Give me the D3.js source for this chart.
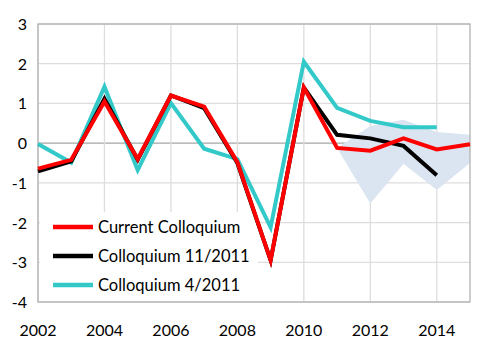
<!DOCTYPE html>
<html>
<head>
<meta charset="utf-8">
<script src="https://cdn.jsdelivr.net/npm/d3@7"></script>
<style>
  body { margin: 0; background: #fff; }
  text { font-family: Lato, "Open Sans", sans-serif; }
</style>
</head>
<body>
<div id="chart"></div>
<script>
// years on the x axis
let years = [2002, 2003, 2004, 2005, 2006, 2007, 2008, 2009, 2010, 2011, 2012, 2013, 2014, 2015];
let currentColloquium = [-0.64, -0.42, 1.05, -0.4, 1.2, 0.92, -0.48, -2.95, 1.4, -0.12, -0.19, 0.12, -0.16, -0.03];
let colloquium112011 = [-0.71, -0.46, 1.12, -0.42, 1.2, 0.88, -0.5, -2.95, 1.4, 0.21, 0.12, -0.07, -0.81];
let colloquium42011 = [-0.02, -0.49, 1.42, -0.68, 1.01, -0.14, -0.4, -2.12, 2.05, 0.89, 0.56, 0.4, 0.4];
// uncertainty band from 2011
let bandYears = [2011, 2012, 2013, 2014, 2015];
let bandUpper = [-0.12, 0.43, 0.59, 0.28, 0.21];
let bandLower = [-0.12, -1.52, -0.52, -1.18, -0.5];
let yTicks = [-4, -3, -2, -1, 0, 1, 2, 3];
let xTicks = [2002, 2004, 2006, 2008, 2010, 2012, 2014];

let series = [
    {name: 'Colloquium 4/2011', values: colloquium42011, color: '#33c9c9'},
    {name: 'Colloquium 11/2011', values: colloquium112011, color: '#000000'},
    {name: 'Current Colloquium', values: currentColloquium, color: '#ff0000'}
];

let width = 500, height = 353;
let plotL = 38, plotR = 470, plotT = 24, plotB = 302;

let x = d3.scaleLinear().domain([2002, 2015]).range([plotL, plotR]);
let y = d3.scaleLinear().domain([-4, 3]).range([plotB, plotT]);

let svg = d3.select('#chart').append('svg')
    .attr('width', width).attr('height', height);

// grid
svg.append('g').selectAll('line').data(yTicks).enter().append('line')
    .attr('x1', plotL).attr('x2', plotR)
    .attr('y1', d => y(d)).attr('y2', d => y(d))
    .attr('stroke', d => d === 0 ? '#a6a6a6' : '#dddddd')
    .attr('stroke-width', 1.3);
svg.append('g').selectAll('line').data(xTicks).enter().append('line')
    .attr('x1', d => x(d)).attr('x2', d => x(d))
    .attr('y1', plotT).attr('y2', plotB)
    .attr('stroke', '#dddddd')
    .attr('stroke-width', 1.3);

// band
let bandData = bandYears.map((yr, i) => ({yr: yr, hi: bandUpper[i], lo: bandLower[i]}));
svg.append('path')
    .datum(bandData)
    .attr('fill', '#dbe5f1')
    .attr('d', d3.area().x(d => x(d.yr)).y0(d => y(d.lo)).y1(d => y(d.hi)));

// legend box (hides grid behind it)
svg.append('rect')
    .attr('x', 40).attr('y', 212).attr('width', 218).attr('height', 89)
    .attr('fill', '#fff');

// frame
svg.append('rect')
    .attr('x', plotL).attr('y', plotT)
    .attr('width', plotR - plotL).attr('height', plotB - plotT)
    .attr('fill', 'none').attr('stroke', '#b3b3b3').attr('stroke-width', 1.3);

// lines
let line = d3.line().x((d, i) => x(years[i])).y(d => y(d));
svg.append('g').selectAll('path').data(series).enter().append('path')
    .attr('d', d => line(d.values))
    .attr('fill', 'none')
    .attr('stroke', d => d.color)
    .attr('stroke-width', 4)
    .attr('stroke-linejoin', 'miter')
    .attr('stroke-miterlimit', 6);

// axis labels
svg.append('g').selectAll('text').data(yTicks).enter().append('text')
    .attr('x', 27).attr('y', d => y(d) + 6)
    .attr('text-anchor', 'end')
    .attr('font-size', 16)
    .text(d => d);
svg.append('g').selectAll('text').data(xTicks).enter().append('text')
    .attr('x', d => x(d)).attr('y', 336)
    .attr('text-anchor', 'middle')
    .attr('font-size', 16)
    .text(d => d);

// legend
let legendOrder = series.slice().reverse();
let leg = svg.append('g').selectAll('g').data(legendOrder).enter().append('g')
    .attr('transform', (d, i) => 'translate(53,' + (227 + i * 29) + ')');
leg.append('line')
    .attr('x1', 0).attr('x2', 40)
    .attr('stroke', d => d.color).attr('stroke-width', 4.5);
leg.append('text')
    .attr('x', 45).attr('y', 6)
    .attr('font-size', 16.5)
    .text(d => d.name);
</script>
</body>
</html>
